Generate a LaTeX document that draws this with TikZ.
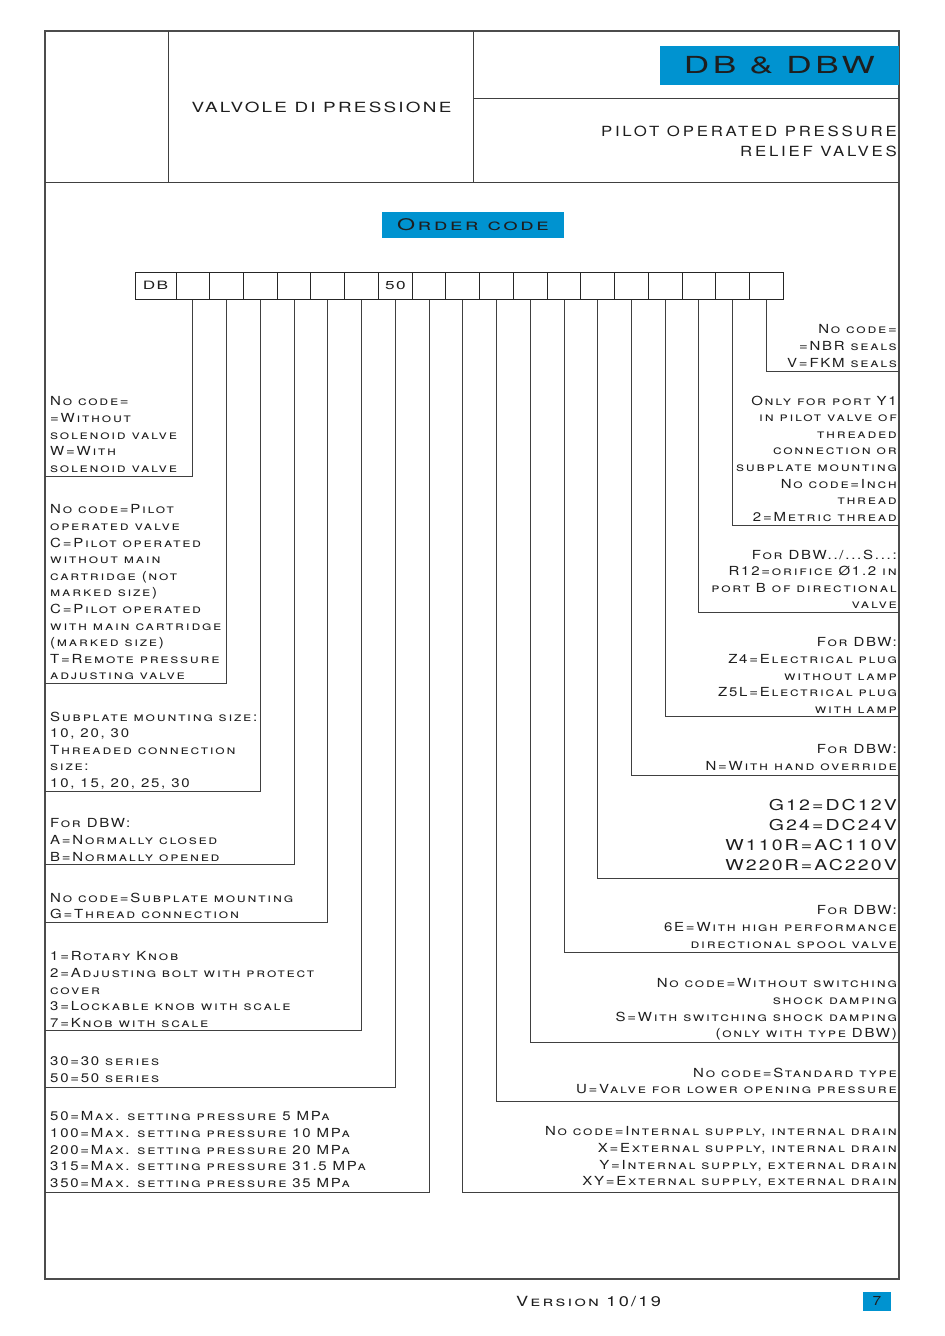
\documentclass[tikz,border=0pt]{standalone}
\usepackage{fontspec}
\setmainfont{TeX Gyre Heros}[LetterSpace=14, FakeStretch=1.2]
\usepackage{tikz}
\usetikzlibrary{positioning}
\definecolor{blu}{RGB}{0,147,208}
\definecolor{inchiostro}{RGB}{30,30,30}

\begin{document}
\begin{tikzpicture}[x=1pt, y=-1pt,
    linea/.style={draw=black!75, line width=1pt},
    cella/.style={draw=black!85, line width=1pt, minimum width=33.74pt, minimum height=27pt, inner sep=0pt, text=inchiostro, font=\fontsize{11.5}{13}\selectfont\addfontfeature{FakeStretch=1.5, LetterSpace=12}},
    descr/.style={inner sep=0pt, text=inchiostro, font=\fontsize{12.5}{16.6}\selectfont\scshape},
    sx/.style={descr, anchor=north west, align=left},
    dx/.style={descr, anchor=north east, align=right},
    testata/.style={inner sep=0pt, text=inchiostro, font=\fontsize{14}{20}\selectfont}]

    \useasboundingbox (0,0) rectangle (945,1336);

    % Cornice e intestazione
    \draw[line width=1.3pt, black!70] (45,31) rectangle (899,1279);
    \draw[linea] (45,182) -- (899,182);
    \draw[linea] (168,31) -- (168,182);
    \draw[linea] (473,31) -- (473,182);
    \draw[linea] (473,98) -- (899,98);

    \node[testata, font=\fontsize{14}{20}\selectfont\addfontfeature{FakeStretch=1.35, LetterSpace=16}] (titolo) at (321.5,107) {VALVOLE DI PRESSIONE};
    \node[fill=blu, minimum width=239pt, minimum height=39pt, inner sep=0pt, anchor=north east, text=inchiostro, font=\fontsize{23.5}{26}\selectfont\addfontfeature{FakeStretch=1.5, LetterSpace=15}] (tipo) at (899,45.5) {DB \& DBW};
    \node[testata, anchor=north east, align=right, font=\fontsize{14}{20}\selectfont\addfontfeature{LetterSpace=20}] (sottotitolo) at (897,125.5) {PILOT OPERATED PRESSURE\\RELIEF VALVES};

    % Titolo codice d'ordine
    \node[fill=blu, minimum width=182pt, minimum height=26pt, inner sep=0pt, text=inchiostro, font=\fontsize{16}{18}\selectfont\scshape\addfontfeature{FakeStretch=1.45, LetterSpace=15}] (ordine) at (473,225) {Order code};

    % Caselle del codice
    \node[cella, minimum width=41pt] (c1) at (155.5,285.7) {DB};
    \foreach \i in {2,...,19} {
        \node[cella] (c\i) at ({176+(\i-1.5)*33.74}, 285.7) {\ifnum\i=8 50\fi};
    }

    % Linee verso sinistra
    \foreach \i/\y in {2/476, 3/683, 4/791, 5/864, 6/922, 7/1030, 8/1087, 9/1192} {
        \coordinate (s\i) at (45,\y);
        \draw[linea] (c\i.south) |- (s\i);
    }

    % Linee verso destra
    \foreach \i/\y in {10/1192, 11/1101, 12/1042, 13/952, 14/878, 15/775, 16/716, 17/612, 18/525, 19/371} {
        \coordinate (d\i) at (899,\y);
        \draw[linea] (c\i.south) |- (d\i);
    }

    % Descrizioni a sinistra
    \node[sx] (solenoide) at (50,396.5) {No code=\\=Without\\solenoid valve\\W=With\\solenoid valve};
    \node[sx] (pilota) at (50,504.5) {No code=Pilot\\operated valve\\C=Pilot operated\\without main\\cartridge (not\\marked size)\\C=Pilot operated\\with main cartridge\\(marked size)\\T=Remote pressure\\adjusting valve};
    \node[sx] (misura) at (50,711.5) {Subplate mounting size:\\10, 20, 30\\Threaded connection\\size:\\10, 15, 20, 25, 30};
    \node[sx] (normale) at (50,818.5) {For DBW:\\A=Normally closed\\B=Normally opened};
    \node[sx] (montaggio) at (50,892.5) {No code=Subplate mounting\\G=Thread connection};
    \node[sx] (manopola) at (50,951.5) {1=Rotary Knob\\2=Adjusting bolt with protect\\cover\\3=Lockable knob with scale\\7=Knob with scale};
    \node[sx] (serie) at (50,1056.5) {30=30 series\\50=50 series};
    \node[sx] (pressione) at (50,1111.5) {50=Max. setting pressure 5 MPa\\100=Max. setting pressure 10 MPa\\200=Max. setting pressure 20 MPa\\315=Max. setting pressure 31.5 MPa\\350=Max. setting pressure 35 MPa};

    % Descrizioni a destra
    \node[dx] (guarnizioni) at (897,324.5) {No code=\\=NBR seals\\V=FKM seals};
    \node[dx] (filetto) at (897,395.5) {Only for port Y1\\in pilot valve of\\threaded\\connection or\\subplate mounting\\No code=Inch\\thread\\2=Metric thread};
    \node[dx] (orifizio) at (897,549.5) {For DBW../...S...:\\R12=orifice Ø1.2 in\\port B of directional\\valve};
    \node[dx] (spina) at (897,637.5) {For DBW:\\Z4=Electrical plug\\without lamp\\Z5L=Electrical plug\\with lamp};
    \node[dx] (manuale) at (897,744.5) {For DBW:\\N=With hand override};
    \node[dx, font=\fontsize{15}{20}\selectfont\addfontfeature{FakeStretch=1.3, LetterSpace=14}] (tensione) at (897,799) {G12=DC12V\\G24=DC24V\\W110R=AC110V\\W220R=AC220V};
    \node[dx] (cassetto) at (897,905.5) {For DBW:\\6E=With high performance\\directional spool valve};
    \node[dx] (smorzamento) at (897,978.5) {No code=Without switching\\shock damping\\S=With switching shock damping\\(only with type DBW)};
    \node[dx] (apertura) at (897,1067.5) {No code=Standard type\\U=Valve for lower opening pressure};
    \node[dx] (drenaggio) at (897,1126.5) {No code=Internal supply, internal drain\\X=External supply, internal drain\\Y=Internal supply, external drain\\XY=External supply, external drain};

    % Piede di pagina
    \node[testata, font=\fontsize{14}{16}\selectfont\scshape\addfontfeature{FakeStretch=1.3, LetterSpace=16}] (versione) at (588.5,1302) {Version 10/19};
    \node[fill=blu, minimum width=28pt, minimum height=19pt, inner sep=0pt, text=inchiostro, font=\fontsize{13}{15}\selectfont] (pagina) at (877,1301) {7};
\end{tikzpicture}
\end{document}
